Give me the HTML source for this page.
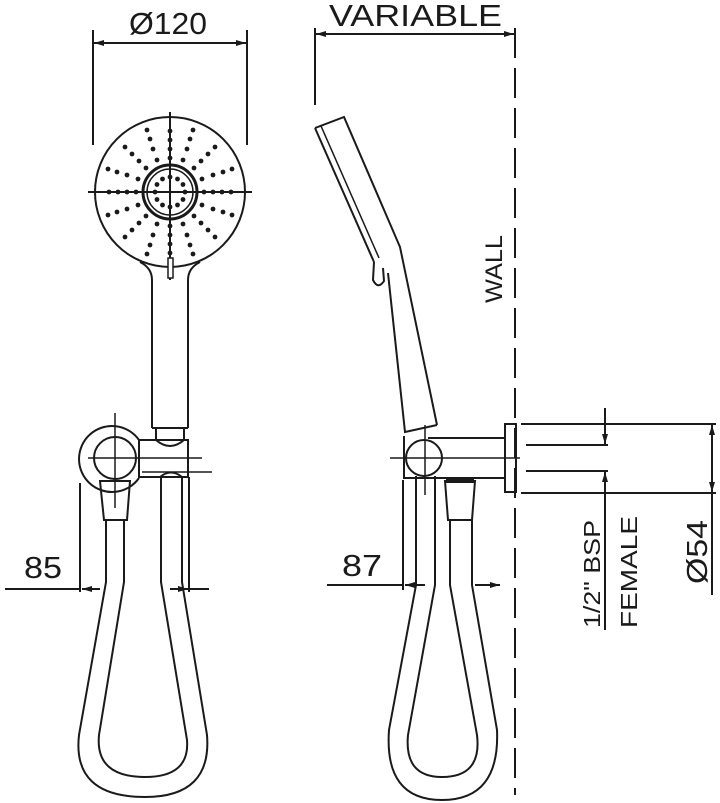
<!DOCTYPE html>
<html><head><meta charset="utf-8"><style>html,body{margin:0;padding:0;background:#fff}svg{display:block}</style></head>
<body>
<svg width="720" height="803" viewBox="0 0 720 803" xmlns="http://www.w3.org/2000/svg" font-family="Liberation Sans, sans-serif" fill="none" stroke="#1a1a1a" stroke-width="2">
<defs>
<marker id="a" viewBox="0 0 10 6" refX="10" refY="3" markerWidth="10" markerHeight="6" orient="auto-start-reverse" markerUnits="userSpaceOnUse"><path d="M0,0L10,3L0,6z" fill="#1a1a1a" stroke="none"/></marker>
</defs>
<!-- Ø120 dim -->
<line x1="93" y1="30" x2="93" y2="145"/><line x1="247" y1="30" x2="247" y2="145"/>
<line x1="94" y1="43" x2="246" y2="43" marker-start="url(#a)" marker-end="url(#a)"/>
<text x="129" y="34" font-size="31" textLength="78" lengthAdjust="spacingAndGlyphs" fill="#1a1a1a" stroke="none">Ø120</text>
<!-- VARIABLE dim -->
<line x1="315" y1="28" x2="315" y2="105"/>
<line x1="316" y1="34" x2="514" y2="34" marker-start="url(#a)" marker-end="url(#a)"/>
<text x="329" y="26" font-size="31" textLength="173" lengthAdjust="spacingAndGlyphs" fill="#1a1a1a" stroke="none">VARIABLE</text>
<!-- wall -->
<line x1="515" y1="28" x2="515" y2="795" stroke-dasharray="30 10"/>
<text transform="translate(502,303) rotate(-90)" font-size="24" textLength="68" lengthAdjust="spacingAndGlyphs" fill="#1a1a1a" stroke="none">WALL</text>

<!-- front head -->
<circle cx="170" cy="192" r="75"/>
<circle cx="170" cy="192" r="27" stroke-width="3"/>
<circle cx="170" cy="192" r="23" stroke-width="1.5"/>
<line x1="88" y1="192" x2="252" y2="192"/>
<line x1="170" y1="112" x2="170" y2="280"/>
<!-- handle front -->
<path d="M152,428 L152,280 Q152,268 140,262 M188,428 L188,280 Q188,268 200,262"/>
<line x1="152" y1="428" x2="188" y2="428"/>
<rect x="168" y="258" width="5" height="20" fill="#fff" stroke-width="1.5"/>
<path d="M156,428 L156,440 Q170,452 184,440 L184,428"/>
<!-- front bracket -->
<path d="M139,440 A33,33 0 1 0 139,478"/>
<circle cx="115" cy="458" r="21"/>
<rect x="139" y="440" width="49" height="37"/>
<line x1="88" y1="458" x2="202" y2="458" stroke-width="1.5"/>
<line x1="142" y1="472" x2="212" y2="472" stroke-width="1.5"/>
<line x1="115" y1="413" x2="115" y2="508" stroke-width="1.5"/>
<path d="M100,481 L130,481 L127,520 L104,520 Z"/>
<path d="M160,477 Q171,468 182,477"/>
<!-- front hose -->
<path d="M106,520 L106,582 L79,735 Q72,797 145,797 Q212,797 207,735 L182,582 L182,477"/>
<path d="M124,520 L124,582 L99,735 Q95,777 145,777 Q190,777 187,740 L161,582 L161,477"/>
<line x1="80" y1="483" x2="80" y2="592"/>
<line x1="189" y1="477" x2="189" y2="592"/>
<line x1="5" y1="589" x2="80" y2="589"/>
<line x1="100" y1="589" x2="82" y2="589" marker-end="url(#a)"/>
<line x1="189" y1="589" x2="209" y2="589"/>
<line x1="170" y1="589" x2="188" y2="589" marker-end="url(#a)"/>
<text x="24" y="578" font-size="31" textLength="38" lengthAdjust="spacingAndGlyphs" fill="#1a1a1a" stroke="none">85</text>

<!-- side head -->
<path d="M315,128 L344,117 L400,247 L437,425"/>
<path d="M315,128 L374,262"/>
<path d="M321,126 L379,258" stroke-width="1.5"/>
<path d="M374,262 L373,280 Q378,290 384,281 L383,268"/>
<path d="M388,273 L405,432 L437,425"/>
<path d="M404,436 L404,478 L505,478 M428,438 L505,438"/>
<circle cx="424" cy="458" r="18" fill="#fff"/>
<line x1="390" y1="458" x2="520" y2="458" stroke-width="1.5"/>
<line x1="425" y1="425" x2="425" y2="495" stroke-width="1.5"/>
<rect x="505" y="424" width="11" height="68"/>
<path d="M445,481 L475,481 L472,520 L448,520 Z"/>
<line x1="446" y1="481" x2="474" y2="481" stroke-width="4"/>
<!-- side hose -->
<path d="M416,476 L416,585 L389,730 Q384,800 442,800 Q500,800 497,730 L472,585 L472,520"/>
<path d="M435,476 L435,585 L408,735 Q404,777 442,777 Q482,777 477,735 L450,585 L450,520"/>
<line x1="403" y1="480" x2="403" y2="590"/>
<line x1="327" y1="585" x2="403" y2="585"/>
<line x1="425" y1="585" x2="405" y2="585" marker-end="url(#a)"/>
<line x1="475" y1="585" x2="500" y2="585" marker-end="url(#a)"/>
<text x="342" y="576" font-size="31" textLength="40" lengthAdjust="spacingAndGlyphs" fill="#1a1a1a" stroke="none">87</text>
<!-- right dims -->
<line x1="521" y1="424" x2="716" y2="424"/>
<line x1="521" y1="493" x2="716" y2="493"/>
<line x1="526" y1="445" x2="608" y2="445"/>
<line x1="526" y1="471" x2="608" y2="471"/>
<line x1="605" y1="408" x2="605" y2="444" marker-end="url(#a)"/>
<line x1="605" y1="630" x2="605" y2="472" marker-end="url(#a)"/>
<line x1="712" y1="425" x2="712" y2="492" marker-start="url(#a)" marker-end="url(#a)"/>
<line x1="712" y1="492" x2="712" y2="595"/>
<text transform="translate(600,628) rotate(-90)" font-size="23" textLength="108" lengthAdjust="spacingAndGlyphs" fill="#1a1a1a" stroke="none">1/2" BSP</text>
<text transform="translate(637,628) rotate(-90)" font-size="23" textLength="112" lengthAdjust="spacingAndGlyphs" fill="#1a1a1a" stroke="none">FEMALE</text>
<text transform="translate(707,584) rotate(-90)" font-size="29" textLength="64" lengthAdjust="spacingAndGlyphs" fill="#1a1a1a" stroke="none">Ø54</text>
<g fill="#1a1a1a" stroke="none">
<circle cx="170" cy="177" r="2.4"/><circle cx="177.5" cy="179" r="2.4"/><circle cx="183" cy="184.5" r="2.4"/><circle cx="185" cy="192" r="2.4"/><circle cx="183" cy="199.5" r="2.4"/><circle cx="177.5" cy="205" r="2.4"/><circle cx="170" cy="207" r="2.4"/><circle cx="162.5" cy="205" r="2.4"/><circle cx="157" cy="199.5" r="2.4"/><circle cx="155" cy="192" r="2.4"/><circle cx="157" cy="184.5" r="2.4"/><circle cx="162.5" cy="179" r="2.4"/>
<circle cx="170" cy="158" r="2.4"/><circle cx="170" cy="149" r="2.4"/><circle cx="170" cy="140" r="2.4"/><circle cx="170" cy="131" r="2.4"/>
<circle cx="170" cy="226" r="2.4"/><circle cx="170" cy="235" r="2.4"/><circle cx="170" cy="244" r="2.4"/><circle cx="170" cy="253" r="2.4"/>
<circle cx="136" cy="192" r="2.4"/><circle cx="127" cy="192" r="2.4"/><circle cx="118" cy="192" r="2.4"/><circle cx="109" cy="192" r="2.4"/>
<circle cx="204" cy="192" r="2.4"/><circle cx="213" cy="192" r="2.4"/><circle cx="222" cy="192" r="2.4"/><circle cx="231" cy="192" r="2.4"/>
<circle cx="194" cy="168" r="2.4"/><circle cx="201" cy="161" r="2.4"/><circle cx="208" cy="154" r="2.4"/><circle cx="215" cy="147" r="2.4"/>
<circle cx="146" cy="168" r="2.4"/><circle cx="139" cy="161" r="2.4"/><circle cx="132" cy="154" r="2.4"/><circle cx="125" cy="147" r="2.4"/>
<circle cx="194" cy="216" r="2.4"/><circle cx="201" cy="223" r="2.4"/><circle cx="208" cy="230" r="2.4"/><circle cx="215" cy="237" r="2.4"/>
<circle cx="146" cy="216" r="2.4"/><circle cx="139" cy="223" r="2.4"/><circle cx="132" cy="230" r="2.4"/><circle cx="125" cy="237" r="2.4"/>
<circle cx="183" cy="160" r="2.4"/><circle cx="187" cy="149" r="2.4"/><circle cx="190" cy="139" r="2.4"/><circle cx="193" cy="130" r="2.4"/>
<circle cx="157" cy="160" r="2.4"/><circle cx="153" cy="149" r="2.4"/><circle cx="150" cy="139" r="2.4"/><circle cx="147" cy="130" r="2.4"/>
<circle cx="183" cy="224" r="2.4"/><circle cx="187" cy="235" r="2.4"/><circle cx="190" cy="245" r="2.4"/><circle cx="193" cy="254" r="2.4"/>
<circle cx="157" cy="224" r="2.4"/><circle cx="153" cy="235" r="2.4"/><circle cx="150" cy="245" r="2.4"/><circle cx="147" cy="254" r="2.4"/>
<circle cx="202" cy="179" r="2.4"/><circle cx="213" cy="175" r="2.4"/><circle cx="223" cy="172" r="2.4"/><circle cx="232" cy="169" r="2.4"/>
<circle cx="138" cy="179" r="2.4"/><circle cx="127" cy="175" r="2.4"/><circle cx="117" cy="172" r="2.4"/><circle cx="108" cy="169" r="2.4"/>
<circle cx="202" cy="205" r="2.4"/><circle cx="213" cy="209" r="2.4"/><circle cx="223" cy="212" r="2.4"/><circle cx="232" cy="215" r="2.4"/>
<circle cx="138" cy="205" r="2.4"/><circle cx="127" cy="209" r="2.4"/><circle cx="117" cy="212" r="2.4"/><circle cx="108" cy="215" r="2.4"/>
</g>
</svg>
</body></html>
